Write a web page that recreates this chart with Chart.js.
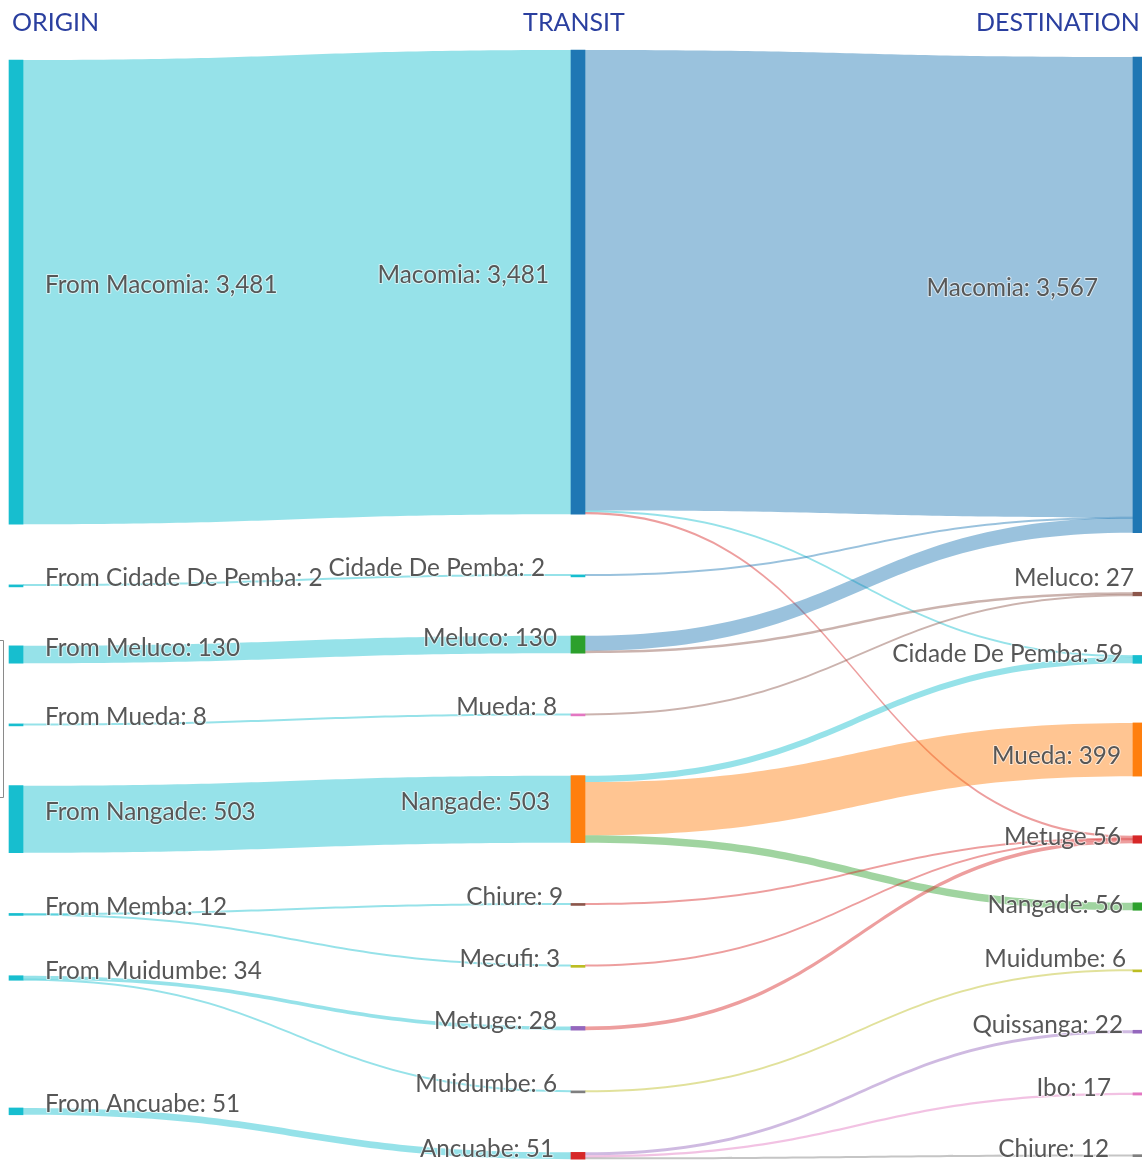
<!DOCTYPE html>
<html>
<head>
<meta charset="utf-8">
<title>Origin - Transit - Destination</title>
<script src="https://cdn.jsdelivr.net/npm/chart.js"></script>
<style>
  html, body { margin: 0; padding: 0; background: #fff; }
  #wrap { width: 1142px; height: 1162px; overflow: hidden; }
</style>
</head>
<body>
<div id="wrap"><canvas id="flowChart" width="1142" height="1162"></canvas></div>
<script>
    // Column titles
    const columnTitles = ['ORIGIN', 'TRANSIT', 'DESTINATION'];

    // Origin column
    const originNames = ['Macomia', 'Cidade De Pemba', 'Meluco', 'Mueda', 'Nangade', 'Memba', 'Muidumbe', 'Ancuabe'];
    const originValues = [3481, 2, 130, 8, 503, 12, 34, 51];

    // Transit column
    const transitNames = ['Macomia', 'Cidade De Pemba', 'Meluco', 'Mueda', 'Nangade', 'Chiure', 'Mecufi', 'Metuge', 'Muidumbe', 'Ancuabe'];
    const transitValues = [3481, 2, 130, 8, 503, 9, 3, 28, 6, 51];

    // Destination column
    const destNames = ['Macomia', 'Meluco', 'Cidade De Pemba', 'Mueda', 'Metuge', 'Nangade', 'Muidumbe', 'Quissanga', 'Ibo', 'Chiure'];
    const destValues = [3567, 27, 59, 399, 56, 56, 6, 22, 17, 12];

    // First leg: origin -> transit
    const legOneFrom = ['Macomia', 'Cidade De Pemba', 'Meluco', 'Mueda', 'Nangade', 'Memba', 'Memba', 'Muidumbe', 'Muidumbe', 'Ancuabe'];
    const legOneTo = ['Macomia', 'Cidade De Pemba', 'Meluco', 'Mueda', 'Nangade', 'Chiure', 'Mecufi', 'Metuge', 'Muidumbe', 'Ancuabe'];
    const legOneValues = [3481, 2, 130, 8, 503, 9, 3, 28, 6, 51];

    // Second leg: transit -> destination
    const legTwoFrom = ['Macomia', 'Macomia', 'Macomia', 'Cidade De Pemba', 'Meluco', 'Meluco', 'Mueda', 'Nangade', 'Nangade', 'Nangade', 'Chiure', 'Mecufi', 'Metuge', 'Muidumbe', 'Ancuabe', 'Ancuabe', 'Ancuabe'];
    const legTwoTo = ['Macomia', 'Cidade De Pemba', 'Metuge', 'Macomia', 'Macomia', 'Meluco', 'Meluco', 'Cidade De Pemba', 'Mueda', 'Nangade', 'Metuge', 'Metuge', 'Metuge', 'Muidumbe', 'Quissanga', 'Ibo', 'Chiure'];
    const legTwoValues = [3454, 11, 16, 2, 111, 19, 8, 48, 399, 56, 9, 3, 28, 6, 22, 17, 12];

    // Node colours per column
    const originColors = originNames.map(() => '#17becf');
    const transitColors = ['#1f77b4', '#17becf', '#2ca02c', '#e377c2', '#ff7f0e', '#8c564b', '#bcbd22', '#9467bd', '#7f7f7f', '#d62728'];
    const destColors = ['#1f77b4', '#8c564b', '#17becf', '#ff7f0e', '#d62728', '#2ca02c', '#bcbd22', '#9467bd', '#e377c2', '#7f7f7f'];

    // Layout (pixels are turned into value units of the y scale)
    const H = 1162;
    const Y_MAX = 8714;
    const u = px => px * Y_MAX / H;
    const colTop = [60, 50, 57];
    const colGap = [60.7, 60.7, 59.6];
    const extraDrop = { '0:Ancuabe': 67 };
    const LINK_ALPHA = 0.45;
    const MIN_LINK = 2;
    // small label nudges [dx, dy] in pixels
    const labelNudge = {
        '1:Macomia': [-8, 0], '1:Cidade De Pemba': [-12, 0], '1:Nangade': [-7, 0],
        '1:Chiure': [6, 0], '1:Mecufi': [3, 0], '1:Ancuabe': [-3, 0],
        '2:Macomia': [-25, 0], '2:Meluco': [11, -9], '2:Cidade De Pemba': [0, 2],
        '2:Mueda': [-2, 13], '2:Metuge': [-2, 5], '2:Nangade': [0, 5],
        '2:Muidumbe': [3, -4], '2:Ibo': [-12, 1], '2:Chiure': [-14, 1]
    };

    function rgba(hex, a) {
        const n = parseInt(hex.slice(1), 16);
        return `rgba(${n >> 16}, ${(n >> 8) & 255}, ${n & 255}, ${a})`;
    }

    // Stack the nodes of each column
    const nodes = [];
    [[originNames, originValues, originColors], [transitNames, transitValues, transitColors], [destNames, destValues, destColors]]
        .forEach(([names, values, colors], col) => {
            let y = u(colTop[col]);
            names.forEach((name, i) => {
                y += u(extraDrop[col + ':' + name] || 0);
                nodes.push({ col, name, value: values[i], color: colors[i], top: y, outOff: 0, inOff: 0 });
                y += values[i] + u(colGap[col]);
            });
        });
    const findNode = (col, name) => nodes.findIndex(n => n.col === col && n.name === name);

    // Links with their offsets inside source and target nodes
    const links = [];
    legOneFrom.forEach((f, i) => {
        const s = findNode(0, f), t = findNode(1, legOneTo[i]);
        links.push({ source: s, target: t, value: legOneValues[i], color: rgba(nodes[s].color, LINK_ALPHA) });
    });
    legTwoFrom.forEach((f, i) => {
        const s = findNode(1, f), t = findNode(2, legTwoTo[i]);
        links.push({ source: s, target: t, value: legTwoValues[i], color: rgba(nodes[t].color, LINK_ALPHA) });
    });
    [...links].sort((a, b) => nodes[a.target].top - nodes[b.target].top).forEach(l => {
        l.sy = nodes[l.source].outOff; nodes[l.source].outOff += l.value;
    });
    [...links].sort((a, b) => nodes[a.source].top - nodes[b.source].top).forEach(l => {
        l.ty = nodes[l.target].inOff; nodes[l.target].inOff += l.value;
    });

    // Flow bands, drawn under the node bars
    const flowBands = {
        id: 'flowBands',
        beforeDatasetsDraw(chart) {
            const ctx = chart.ctx, ys = chart.scales.y;
            const bars = chart.getDatasetMeta(0).data;
            ctx.save();
            links.forEach(l => {
                const s = nodes[l.source], t = nodes[l.target];
                const x0 = bars[l.source].x + bars[l.source].width / 2;
                const x1 = bars[l.target].x - bars[l.target].width / 2;
                let a0 = ys.getPixelForValue(s.top + l.sy), b0 = ys.getPixelForValue(s.top + l.sy + l.value);
                let a1 = ys.getPixelForValue(t.top + l.ty), b1 = ys.getPixelForValue(t.top + l.ty + l.value);
                if (b0 - a0 < MIN_LINK) {
                    const c0 = (a0 + b0) / 2, c1 = (a1 + b1) / 2;
                    a0 = c0 - MIN_LINK / 2; b0 = c0 + MIN_LINK / 2;
                    a1 = c1 - MIN_LINK / 2; b1 = c1 + MIN_LINK / 2;
                }
                const xm = (x0 + x1) / 2;
                ctx.beginPath();
                ctx.moveTo(x0, a0);
                ctx.bezierCurveTo(xm, a0, xm, a1, x1, a1);
                ctx.lineTo(x1, b1);
                ctx.bezierCurveTo(xm, b1, xm, b0, x0, b0);
                ctx.closePath();
                ctx.fillStyle = l.color;
                ctx.fill();
            });
            ctx.restore();
        }
    };

    // Node labels and column titles
    const flowLabels = {
        id: 'flowLabels',
        afterDatasetsDraw(chart) {
            const ctx = chart.ctx, ys = chart.scales.y;
            const bars = chart.getDatasetMeta(0).data;
            ctx.save();
            ctx.font = '24.3px Lato, "Open Sans", sans-serif';
            ctx.textBaseline = 'alphabetic';
            ctx.lineJoin = 'round';
            nodes.forEach((n, i) => {
                const bar = bars[i];
                const sep = n.col === 2 && n.name === 'Metuge' ? ' ' : ': ';
                const text = (n.col === 0 ? 'From ' : '') + n.name + sep + n.value.toLocaleString('en-US');
                const [dx, dy] = labelNudge[n.col + ':' + n.name] || [0, 0];
                const y = ys.getPixelForValue(n.top + n.value / 2) + 1 + dy;
                let x;
                if (n.col === 0) { ctx.textAlign = 'left'; x = bar.x + bar.width / 2 + 22; }
                else if (n.col === 1) { ctx.textAlign = 'right'; x = bar.x - bar.width / 2 - 14; }
                else { ctx.textAlign = 'right'; x = bar.x - bar.width / 2 - 10; }
                x += dx;
                ctx.strokeStyle = 'rgba(255,255,255,0.6)';
                ctx.lineWidth = 2;
                ctx.strokeText(text, x, y);
                ctx.fillStyle = '#575757';
                ctx.fillText(text, x, y);
            });
            // column titles
            ctx.font = '25px Lato, "Open Sans", sans-serif';
            ctx.fillStyle = '#2a3f9f';
            ctx.textAlign = 'left';
            ctx.fillText(columnTitles[0], 12, 31);
            ctx.textAlign = 'center';
            ctx.fillText(columnTitles[1], 574, 31);
            ctx.textAlign = 'left';
            ctx.fillText(columnTitles[2], 976, 31);
            // hover box edge at the left border
            ctx.strokeStyle = '#8a8a8a';
            ctx.lineWidth = 1;
            ctx.strokeRect(-8, 640.5, 11.5, 157);
            ctx.restore();
        }
    };

    const ctx = document.getElementById('flowChart').getContext('2d');
    const flowChart = new Chart(ctx, {
        type: 'bar',
        data: {
            datasets: [{
                data: nodes.map(n => ({ x: n.col, y: [n.top, n.top + n.value] })),
                backgroundColor: nodes.map(n => n.color),
                borderWidth: 0,
                barThickness: 14,
                minBarLength: 2,
                grouped: false
            }]
        },
        options: {
            responsive: false,
            animation: false,
            events: [],
            layout: { padding: 0 },
            scales: {
                x: { type: 'linear', offset: false, min: -0.0285, max: 2.0036, display: false },
                y: { min: 0, max: Y_MAX, reverse: true, display: false }
            },
            plugins: {
                legend: { display: false },
                tooltip: { enabled: false }
            }
        },
        plugins: [flowBands, flowLabels]
    });
</script>
</body>
</html>
